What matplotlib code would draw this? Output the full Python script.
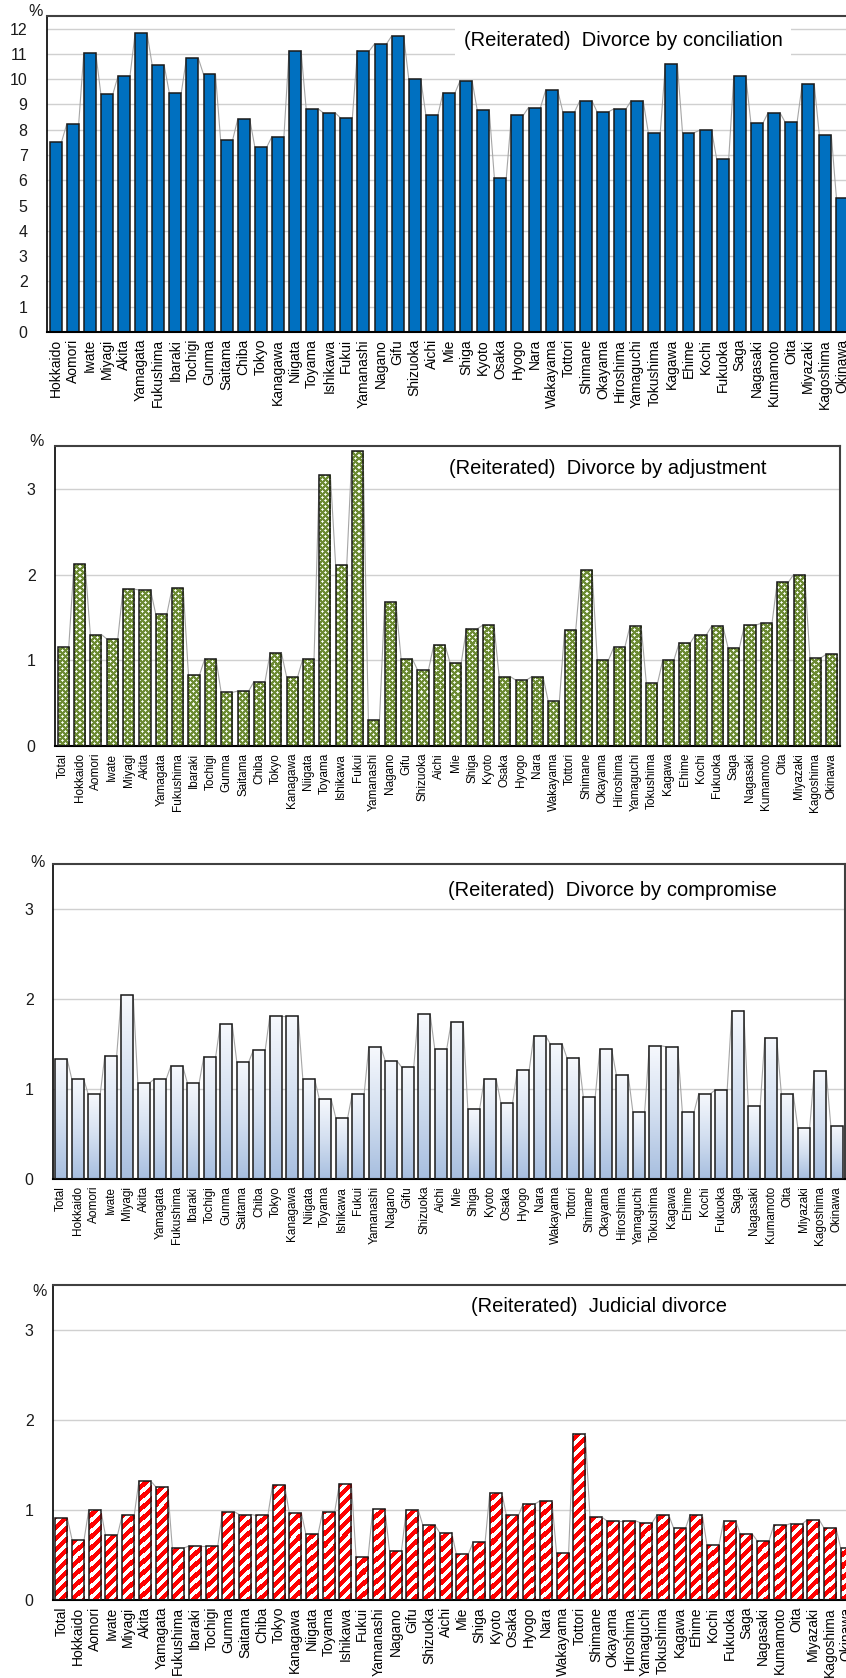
import numpy as np
import matplotlib
matplotlib.use("Agg")
import matplotlib.pyplot as plt
from matplotlib.colors import LinearSegmentedColormap, to_rgb

plt.rcParams['font.family'] = ['Liberation Sans', 'DejaVu Sans']

prefectures = ["Hokkaido", "Aomori", "Iwate", "Miyagi", "Akita", "Yamagata", "Fukushima",
               "Ibaraki", "Tochigi", "Gunma", "Saitama", "Chiba", "Tokyo", "Kanagawa",
               "Niigata", "Toyama", "Ishikawa", "Fukui", "Yamanashi", "Nagano", "Gifu",
               "Shizuoka", "Aichi", "Mie", "Shiga", "Kyoto", "Osaka", "Hyogo", "Nara",
               "Wakayama", "Tottori", "Shimane", "Okayama", "Hiroshima", "Yamaguchi",
               "Tokushima", "Kagawa", "Ehime", "Kochi", "Fukuoka", "Saga", "Nagasaki",
               "Kumamoto", "Oita", "Miyazaki", "Kagoshima", "Okinawa"]
labels_total = ["Total"] + prefectures

conciliation = [7.52, 8.21, 11.03, 9.41, 10.12, 11.81, 10.55, 9.46, 10.82, 10.19, 7.59, 8.42,
                7.32, 7.73, 11.13, 8.83, 8.67, 8.47, 11.13, 11.40, 11.71, 9.99, 8.58, 9.46,
                9.94, 8.78, 6.11, 8.58, 8.88, 9.57, 8.72, 9.15, 8.72, 8.83, 9.15, 7.89,
                10.60, 7.89, 7.98, 6.83, 10.12, 8.26, 8.67, 8.30, 9.81, 7.78, 5.29]

adjustment = [1.15, 2.12, 1.30, 1.25, 1.83, 1.82, 1.54, 1.84, 0.83, 1.02, 0.625, 0.64, 0.75,
              1.09, 0.81, 1.02, 3.16, 2.11, 3.44, 0.30, 1.68, 1.02, 0.89, 1.18, 0.97, 1.37,
              1.41, 0.81, 0.77, 0.81, 0.52, 1.35, 2.05, 1.00, 1.15, 1.40, 0.73, 1.00, 1.20,
              1.30, 1.40, 1.14, 1.41, 1.43, 1.91, 2.00, 1.03, 1.07]

compromise = [1.33, 1.11, 0.94, 1.37, 2.04, 1.07, 1.11, 1.255, 1.07, 1.36, 1.72, 1.30, 1.43,
              1.81, 1.81, 1.11, 0.886, 0.68, 0.95, 1.47, 1.31, 1.24, 1.83, 1.44, 1.75, 0.78,
              1.11, 0.85, 1.21, 1.59, 1.50, 1.35, 0.91, 1.44, 1.16, 0.75, 1.48, 1.47, 0.75,
              0.95, 0.99, 1.87, 0.81, 1.57, 0.95, 0.57, 1.20, 0.59]

judicial = [0.907, 0.67, 1.00, 0.72, 0.94, 1.32, 1.26, 0.58, 0.60, 0.60, 0.98, 0.95, 0.94,
            1.275, 0.97, 0.73, 0.98, 1.29, 0.48, 1.01, 0.55, 1.00, 0.83, 0.75, 0.51, 0.64,
            1.19, 0.94, 1.07, 1.10, 0.52, 1.85, 0.92, 0.88, 0.88, 0.86, 0.94, 0.80, 0.95,
            0.61, 0.88, 0.73, 0.66, 0.83, 0.85, 0.89, 0.80, 0.58]

titles = ["(Reiterated)  Divorce by conciliation", "(Reiterated)  Divorce by adjustment",
          "(Reiterated)  Divorce by compromise", "(Reiterated)  Judicial divorce"]

W, H = 846, 1678
fig = plt.figure(figsize=(W / 100, H / 100), dpi=100)


def pos(l, r, t, b):
    return [l / W, 1 - b / H, (r - l) / W, (b - t) / H]


def setup(ax, labels, ymax, yticks, xfs, right_spine):
    n = len(labels)
    ax.set_xlim(-0.5, n - 0.5)
    ax.set_ylim(0, ymax)
    ax.set_yticks(yticks)
    ax.set_yticklabels([str(t) for t in yticks])
    ax.set_xticks(np.arange(n))
    ax.set_xticklabels(labels, rotation=90, fontsize=xfs, va='top', ha='center')
    ax.tick_params(axis='y', length=0, pad=14, labelsize=11.5, labelcolor='#1a1a1a')
    ax.tick_params(axis='x', length=0, pad=5)
    ax.grid(axis='y', color='#d0d0d0', lw=1.0, zorder=0)
    ax.set_axisbelow(True)
    ax.spines['left'].set_color('#000000')
    ax.spines['bottom'].set_color('#000000')
    ax.spines['left'].set_linewidth(1.2)
    ax.spines['bottom'].set_linewidth(1.5)
    ax.spines['top'].set_color('#404040')
    ax.spines['top'].set_linewidth(1.5)
    if right_spine:
        ax.spines['right'].set_color('#404040')
        ax.spines['right'].set_linewidth(1.5)
    else:
        ax.spines['right'].set_visible(False)


def connect(ax, vals, w):
    for i in range(len(vals) - 1):
        ax.plot([i + w / 2, i + 1 - w / 2], [vals[i], vals[i + 1]],
                color='#a6a6a6', lw=0.8, zorder=1)


def pattern_fill(ax, bars, img, ymax, n):
    for b in bars:
        im = ax.imshow(img, extent=[-0.5, n - 0.5, 0, ymax], origin='upper',
                       aspect='auto', interpolation='nearest', zorder=2)
        im.set_clip_path(b)


def axes_pixels(ax):
    p = ax.get_position()
    return int(round(p.height * H)), int(round(p.width * W))


# Panel 1: conciliation
ax1 = fig.add_axes(pos(47, 851, 16, 332))
x1 = np.arange(len(prefectures))
w1 = 0.7
connect(ax1, conciliation, w1)
ax1.bar(x1, conciliation, w1, color='#0070C0', edgecolor='#1a1a1a', lw=1.1, zorder=2)
setup(ax1, prefectures, 12.5, list(range(0, 13)), 10, False)

# Panel 2: adjustment (green with white dot pattern)
ax2 = fig.add_axes(pos(55, 840, 446, 746))
x2 = np.arange(len(labels_total))
n2 = len(labels_total)
w2 = 0.68
connect(ax2, adjustment, w2)
bars2 = ax2.bar(x2, adjustment, w2, fill=False, edgecolor='#1a1a1a', lw=1.1, zorder=3)
ny, nx = axes_pixels(ax2)
ii, jj = np.mgrid[0:ny, 0:nx]
green = np.array(to_rgb('#6c8a33'))
img2 = np.ones((ny, nx, 3)) * green
a = ii % 6
b = jj % 6
centers = ((a == 0) & (b == 0)) | ((a == 3) & (b == 3))
arms = (((a == 0) & ((b == 1) | (b == 5))) | ((b == 0) & ((a == 1) | (a == 5))) |
        ((a == 3) & ((b == 2) | (b == 4))) | ((b == 3) & ((a == 2) | (a == 4))))
img2[centers] = [1, 1, 1]
img2[arms] = [0.86, 0.91, 0.80]
pattern_fill(ax2, bars2, img2, 3.5, n2)
setup(ax2, labels_total, 3.5, [0, 1, 2, 3], 8.5, True)

# Panel 3: compromise (gradient fill)
ax3 = fig.add_axes(pos(53, 845, 864, 1179))
w3 = 0.72
connect(ax3, compromise, w3)
cmap = LinearSegmentedColormap.from_list('bl', ['#a7bedf', '#d3dff0', '#f7f9fd'])
grad = np.linspace(0, 1, 256).reshape(-1, 1)
bars3 = ax3.bar(x2, compromise, w3, fill=False, edgecolor='#1a1a1a', lw=1.1, zorder=3)
for xi, v, bb in zip(x2, compromise, bars3):
    im = ax3.imshow(grad, extent=[xi - w3 / 2, xi + w3 / 2, 0, v], origin='lower',
                    aspect='auto', cmap=cmap, zorder=2)
    im.set_clip_path(bb)
setup(ax3, labels_total, 3.5, [0, 1, 2, 3], 8.5, True)

# Panel 4: judicial (red / white diagonal stripes)
ax4 = fig.add_axes(pos(53, 855, 1285, 1600))
w4 = 0.72
connect(ax4, judicial, w4)
bars4 = ax4.bar(x2, judicial, w4, fill=False, edgecolor='#1a1a1a', lw=1.1, zorder=3)
ny, nx = axes_pixels(ax4)
ii, jj = np.mgrid[0:ny, 0:nx]
img4 = np.ones((ny, nx, 3))
stripe = ((ii + jj) % 11) < 5.5
img4[stripe] = to_rgb('#ff0000')
pattern_fill(ax4, bars4, img4, 3.5, n2)
setup(ax4, labels_total, 3.5, [0, 1, 2, 3], 10, False)

# Titles
fig.text(623 / W, 1 - 41 / H, titles[0], fontsize=14.5, ha='center', va='center',
         bbox=dict(facecolor='white', edgecolor='none', pad=6))
fig.text(608 / W, 1 - 469 / H, titles[1], fontsize=14.5, ha='center', va='center')
fig.text(612 / W, 1 - 891 / H, titles[2], fontsize=14.5, ha='center', va='center')
fig.text(599 / W, 1 - 1307 / H, titles[3], fontsize=14.5, ha='center', va='center')

# Percent labels
for px, py in [(36, 12), (37, 442), (38, 862), (40, 1291)]:
    fig.text(px / W, 1 - py / H, '%', fontsize=11.5, ha='center', va='center', color='#1a1a1a')

fig.savefig('out.png', dpi=100)
